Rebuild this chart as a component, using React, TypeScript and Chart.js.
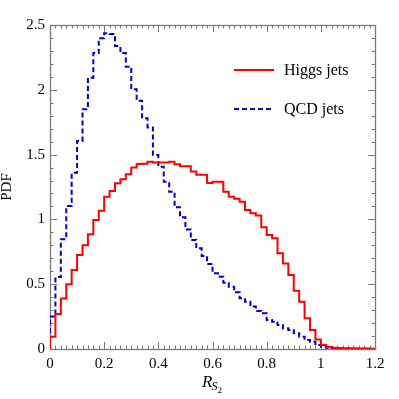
import React, { useEffect, useRef } from "react";
import { Chart, registerables } from "chart.js";

Chart.register(...registerables);

const BIN_WIDTH = 0.02;

const higgsJets = [
  0.095, 0.27, 0.39, 0.5, 0.61, 0.725, 0.8, 0.885, 0.995, 1.067,
  1.175, 1.22, 1.278, 1.31, 1.348, 1.4, 1.427, 1.43, 1.445, 1.44,
  1.44, 1.44, 1.445, 1.425, 1.41, 1.41, 1.37, 1.345, 1.345, 1.28,
  1.29, 1.29, 1.214, 1.175, 1.16, 1.137, 1.073, 1.047, 1.03, 0.94,
  0.88, 0.854, 0.738, 0.66, 0.571, 0.45, 0.365, 0.237, 0.147, 0.074,
  0.03, 0.015, 0.01, 0.008, 0.006, 0.005, 0.004, 0.003, 0.003, 0.002,
];

const qcdJets = [
  0.25, 0.555, 0.846, 1.103, 1.36, 1.605, 1.85, 2.093, 2.283, 2.398,
  2.437, 2.43, 2.338, 2.283, 2.178, 2.004, 1.916, 1.78, 1.71, 1.497,
  1.407, 1.29, 1.214, 1.093, 1.016, 0.923, 0.841, 0.777, 0.718, 0.656,
  0.584, 0.558, 0.512, 0.481, 0.437, 0.391, 0.365, 0.327, 0.293, 0.275,
  0.224, 0.211, 0.185, 0.16, 0.147, 0.121, 0.095, 0.069, 0.056, 0.031,
  0.018, 0.01, 0.006, 0.004, 0.003, 0.002, 0.001, 0.001, 0.001, 0.0,
];

const seriesLabels = ["Higgs jets", "QCD jets"];
const seriesColors = ["rgb(255,0,0)", "rgb(0,0,200)"];
const xRange = [0, 1.2];
const yRange = [0, 2.5];
const xMajorStep = 0.2;
const yMajorStep = 0.5;
const xMinorPerMajor = 10;
const yMinorPerMajor = 5;
const yTitle = "PDF";

const FONT = "'Liberation Serif', 'Times New Roman', serif";

// Points at left bin edges (+ closing right edge); "before" stepping
// (horizontal first) holds each value across its own bin.
function toSteps(vals: number[]) {
  const pts: { x: number; y: number }[] = [{ x: 0, y: 0 }];
  vals.forEach((v, i) => pts.push({ x: +(i * BIN_WIDTH).toFixed(4), y: v }));
  pts.push({ x: +(vals.length * BIN_WIDTH).toFixed(4), y: vals[vals.length - 1] });
  return pts;
}

const framePlugin = {
  id: "frameTicks",
  beforeDatasetsDraw(chart: any) {
    const { ctx, chartArea: a, scales } = chart;
    const x = scales.x;
    const y = scales.y;
    ctx.save();
    ctx.strokeStyle = "#7a7a7a";
    ctx.lineWidth = 1;
    const nx = Math.round((xRange[1] - xRange[0]) / xMajorStep) * xMinorPerMajor;
    for (let i = 0; i <= nx; i++) {
      const v = xRange[0] + (i * xMajorStep) / xMinorPerMajor;
      const px = Math.round(x.getPixelForValue(v)) + 0.5;
      const len = i % xMinorPerMajor === 0 ? 7 : 3.5;
      ctx.beginPath();
      ctx.moveTo(px, a.bottom);
      ctx.lineTo(px, a.bottom - len);
      ctx.moveTo(px, a.top);
      ctx.lineTo(px, a.top + len);
      ctx.stroke();
    }
    const ny = Math.round((yRange[1] - yRange[0]) / yMajorStep) * yMinorPerMajor;
    for (let i = 0; i <= ny; i++) {
      const v = yRange[0] + (i * yMajorStep) / yMinorPerMajor;
      const py = Math.round(y.getPixelForValue(v)) + 0.5;
      const len = i % yMinorPerMajor === 0 ? 7 : 3.5;
      ctx.beginPath();
      ctx.moveTo(a.left, py);
      ctx.lineTo(a.left + len, py);
      ctx.moveTo(a.right, py);
      ctx.lineTo(a.right - len, py);
      ctx.stroke();
    }
    ctx.lineWidth = 1.3;
    ctx.strokeRect(Math.round(a.left) + 0.5, Math.round(a.top) + 0.5, Math.round(a.right - a.left), Math.round(a.bottom - a.top));
    ctx.restore();
  },
  afterDraw(chart: any) {
    const { ctx, chartArea: a } = chart;
    ctx.save();
    const lx0 = a.left + 184;
    const lx1 = a.left + 224;
    const tx = a.left + 234;
    const rows = [a.top + 45, a.top + 84];
    seriesLabels.forEach((lab, i) => {
      ctx.strokeStyle = seriesColors[i];
      ctx.lineWidth = 2;
      ctx.setLineDash(i === 1 ? [5, 3] : []);
      ctx.beginPath();
      ctx.moveTo(lx0, rows[i]);
      ctx.lineTo(lx1, rows[i]);
      ctx.stroke();
      ctx.setLineDash([]);
      ctx.fillStyle = "#000";
      ctx.font = `16px ${FONT}`;
      ctx.textBaseline = "alphabetic";
      ctx.textAlign = "left";
      ctx.fillText(lab, tx, rows[i] + 5);
    });
    const cx = (a.left + a.right) / 2;
    const base = a.bottom + 38;
    ctx.fillStyle = "#000";
    ctx.font = `italic 17px ${FONT}`;
    const wR = ctx.measureText("R").width;
    ctx.font = `italic 12px ${FONT}`;
    const wS = ctx.measureText("S").width;
    ctx.font = `9px ${FONT}`;
    const w2 = ctx.measureText("2").width;
    let sx = cx - (wR + wS + w2) / 2;
    ctx.font = `italic 17px ${FONT}`;
    ctx.fillText("R", sx, base);
    sx += wR - 1;
    ctx.font = `italic 12px ${FONT}`;
    ctx.fillText("S", sx, base + 3);
    sx += wS;
    ctx.font = `9px ${FONT}`;
    ctx.fillText("2", sx, base + 6);
    ctx.restore();
  },
};

export default function App() {
  const ref = useRef<HTMLCanvasElement>(null);
  useEffect(() => {
    if (!ref.current) return;
    const fmt = (v: any) => String(Number(Number(v).toFixed(2)));
    const chart = new Chart(ref.current, {
      type: "line",
      data: {
        datasets: [
          {
            label: seriesLabels[0],
            data: toSteps(higgsJets),
            borderColor: seriesColors[0],
            borderWidth: 2,
            pointRadius: 0,
            stepped: "before",
            fill: false,
          },
          {
            label: seriesLabels[1],
            data: toSteps(qcdJets),
            borderColor: seriesColors[1],
            borderWidth: 2,
            borderDash: [5, 3],
            pointRadius: 0,
            stepped: "before",
            fill: false,
          },
        ],
      },
      options: {
        animation: false,
        responsive: false,
        layout: { padding: { top: 25, right: 24, left: 0, bottom: 0 } },
        plugins: { legend: { display: false }, tooltip: { enabled: false } },
        scales: {
          x: {
            type: "linear",
            min: xRange[0],
            max: xRange[1],
            grid: { display: false, drawTicks: false },
            border: { display: false },
            ticks: {
              stepSize: xMajorStep,
              padding: 6,
              color: "#000",
              font: { family: FONT, size: 15 },
              callback: fmt,
              maxRotation: 0,
            },
            afterFit: (s: any) => {
              s.height = 50;
            },
          },
          y: {
            type: "linear",
            min: yRange[0],
            max: yRange[1],
            grid: { display: false, drawTicks: false },
            border: { display: false },
            ticks: {
              stepSize: yMajorStep,
              padding: 5,
              color: "#000",
              font: { family: FONT, size: 15 },
              callback: fmt,
            },
            title: {
              display: true,
              text: yTitle,
              color: "#000",
              font: { family: FONT, size: 15, lineHeight: 1 },
              padding: { top: 0, bottom: 0 },
            },
            afterFit: (s: any) => {
              s.width = 50;
            },
          },
        },
      },
      plugins: [framePlugin],
    });
    return () => chart.destroy();
  }, []);
  return (
    <div style={{ position: "fixed", left: 0, top: 0, width: 399, height: 399, background: "#fff" }}>
      <canvas ref={ref} width={399} height={399} style={{ width: 399, height: 399, display: "block" }} />
    </div>
  );
}
